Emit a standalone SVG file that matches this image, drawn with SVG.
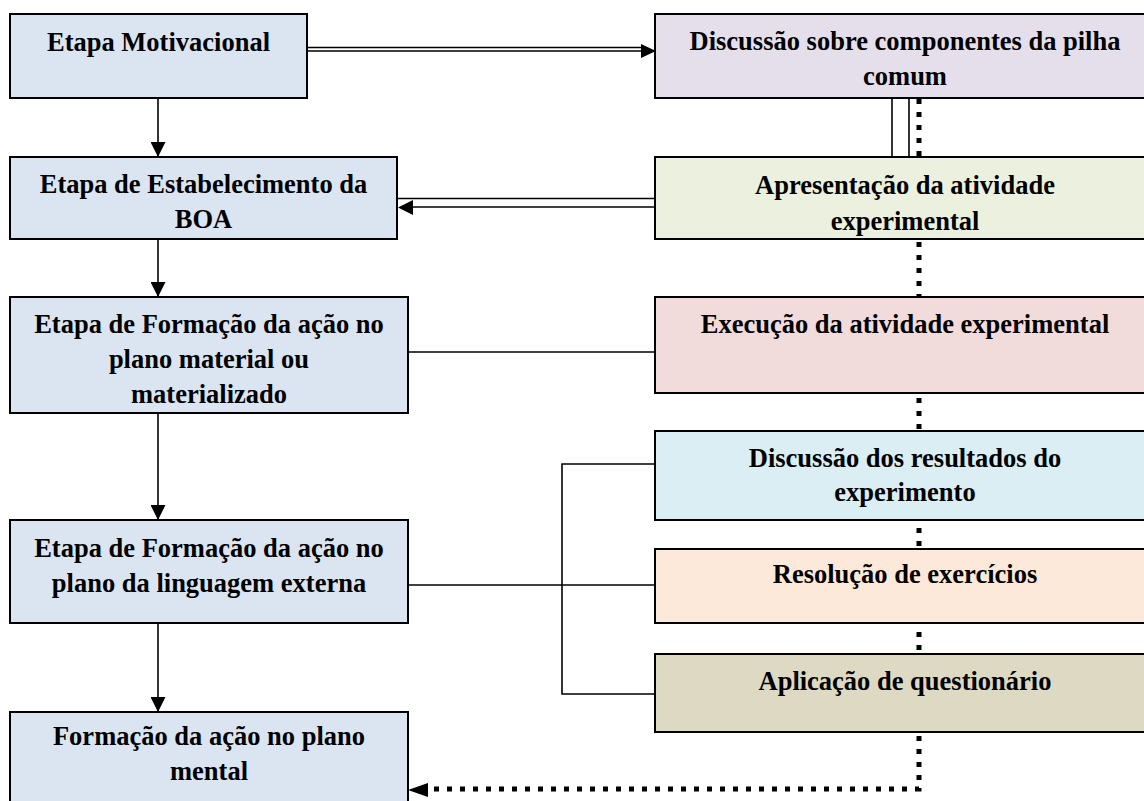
<svg xmlns="http://www.w3.org/2000/svg" width="1144" height="801" viewBox="0 0 1144 801">
<style>
.box{stroke:#000;stroke-width:2}
.l{fill:#dbe5f1}
.t{font-family:"Liberation Serif","Times New Roman",serif;font-weight:bold;font-size:26.5px;fill:#000;text-anchor:middle}
.c{stroke:#000;stroke-width:1.6;fill:none}
.dot{stroke:#000;stroke-width:5;fill:none;stroke-dasharray:5 8}
</style>
<defs>
<marker id="arr" markerUnits="userSpaceOnUse" markerWidth="15" markerHeight="15" refX="15" refY="7.5" orient="auto">
<path d="M0,0 L15,7.5 L0,15 Z" fill="#000"/>
</marker>
<clipPath id="clipR2"><rect x="655" y="157" width="500" height="81"/></clipPath>
</defs>
<rect width="1144" height="801" fill="#fff"/>
<g id="connectors">
<line class="c" x1="158" y1="98" x2="158" y2="157" marker-end="url(#arr)"/>
<line class="c" x1="158" y1="239" x2="158" y2="297" marker-end="url(#arr)"/>
<line class="c" x1="158" y1="413" x2="158" y2="520" marker-end="url(#arr)"/>
<line class="c" x1="158" y1="623" x2="158" y2="712" marker-end="url(#arr)"/>
<line class="c" x1="307" y1="47.5" x2="645" y2="47.5"/>
<line class="c" x1="307" y1="51" x2="645" y2="51"/>
<polygon points="656,51 641,44 641,58" fill="#000"/>
<line class="c" x1="655" y1="198.5" x2="398" y2="198.5"/>
<line class="c" x1="655" y1="207" x2="410" y2="207"/>
<polygon points="398,207.5 413,200 413,215" fill="#000"/>
<line class="c" x1="892" y1="98" x2="892" y2="157"/>
<line class="c" x1="909" y1="98" x2="909" y2="157"/>
<line class="c" x1="408" y1="352" x2="655" y2="352"/>
<line class="c" x1="408" y1="585" x2="655" y2="585"/>
<polyline class="c" points="655,464 562,464 562,694 655,694"/>
<path class="dot" d="M919,99 V789 H432"/>
<polygon points="408,790 428,783 428,797" fill="#000"/>
</g>
<g id="n1"><rect class="box l" x="10" y="14" width="297" height="84"/><text class="t" x="158.5" y="51">Etapa Motivacional</text></g>
<g id="n2"><rect class="box l" x="10" y="157" width="387" height="82"/><text class="t" x="203.5" y="193">Etapa de Estabelecimento da</text><text class="t" x="203.5" y="228">BOA</text></g>
<g id="n3"><rect class="box l" x="10" y="297" width="398" height="116"/><text class="t" x="209" y="333">Etapa de Formação da ação no</text><text class="t" x="209" y="368">plano material ou</text><text class="t" x="209" y="403">materializado</text></g>
<g id="n4"><rect class="box l" x="10" y="520" width="398" height="103"/><text class="t" x="209" y="557">Etapa de Formação da ação no</text><text class="t" x="209" y="592">plano da linguagem externa</text></g>
<g id="n5"><rect class="box l" x="10" y="712" width="398" height="100"/><text class="t" x="209" y="745">Formação da ação no plano</text><text class="t" x="209" y="780">mental</text></g>
<g id="r1"><rect class="box" fill="#e5dfec" x="655" y="14" width="500" height="84"/><text class="t" x="905" y="50">Discussão sobre componentes da pilha</text><text class="t" x="905" y="85">comum</text></g>
<g id="r2"><rect class="box" fill="#ebf1de" x="655" y="157" width="500" height="82"/><g clip-path="url(#clipR2)"><text class="t" x="905" y="194">Apresentação da atividade</text><text class="t" x="905" y="230">experimental</text></g></g>
<g id="r3"><rect class="box" fill="#f2dcdb" x="655" y="297" width="500" height="96"/><text class="t" x="905" y="333">Execução da atividade experimental</text></g>
<g id="r4"><rect class="box" fill="#daeef3" x="655" y="431" width="500" height="89"/><text class="t" x="905" y="467">Discussão dos resultados do</text><text class="t" x="905" y="501">experimento</text></g>
<g id="r5"><rect class="box" fill="#fde9d9" x="655" y="549" width="500" height="74"/><text class="t" x="905" y="583">Resolução de exercícios</text></g>
<g id="r6"><rect class="box" fill="#ddd9c3" x="655" y="654" width="500" height="78"/><text class="t" x="905" y="690">Aplicação de questionário</text></g>
</svg>
